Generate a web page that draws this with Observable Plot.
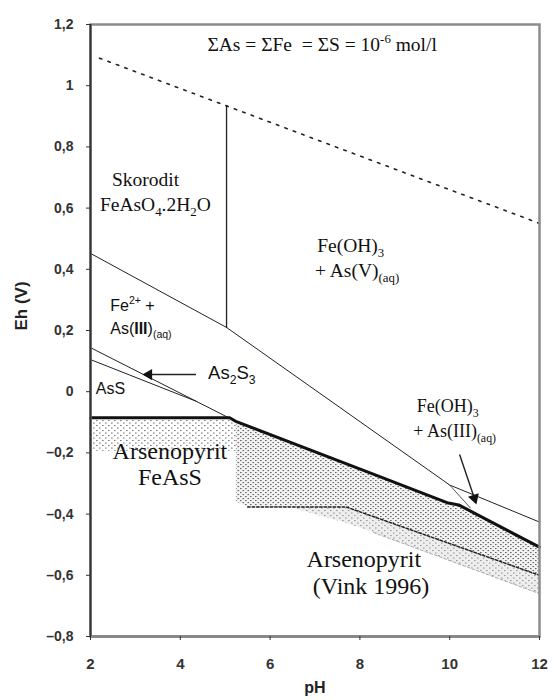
<!DOCTYPE html>
<html>
<head>
<meta charset="utf-8">
<script src="https://cdn.jsdelivr.net/npm/d3@7"></script>
<script src="https://cdn.jsdelivr.net/npm/@observablehq/plot@0.6"></script>
<style>
  body { margin: 0; background: #fff; }
  #chart { width: 554px; height: 700px; }
</style>
</head>
<body>
<div id="chart"></div>
<script>
// Eh–pH stability diagram for the As–Fe–S–H2O system

const phTicks = [2, 4, 6, 8, 10, 12];
const ehTicks = [-0.8, -0.6, -0.4, -0.2, 0, 0.2, 0.4, 0.6, 0.8, 1, 1.2];

// upper stability limit of water (O2 / H2O)
const o2Ph = [2.2, 12];
const o2Eh = [1.09, 0.55];

// skorodite | Fe(OH)3 + As(V) boundary
const skorPh = [5.03, 5.03];
const skorEh = [0.21, 0.935];

// Fe2+ / Fe(OH)3 boundary
const feOxPh = [2, 5.03, 10.0, 12];
const feOxEh = [0.452, 0.21, -0.305, -0.426];

// Fe(OH)3 + As(III) field, lower branch
const feAs3Ph = [10.0, 10.46];
const feAs3Eh = [-0.305, -0.38];

// As2S3 sliver between AsS and Fe2+ + As(III)
const as2s3TopPh = [2, 5.25];
const as2s3TopEh = [0.144, -0.098];
const as2s3BotPh = [2, 4.35];
const as2s3BotEh = [0.105, -0.031];

// upper arsenopyrite boundary
const apyPh = [2, 5.1, 5.25, 8.24, 9.97, 10.2, 12];
const apyEh = [-0.085, -0.085, -0.098, -0.266, -0.364, -0.37, -0.508];

// arsenopyrite FeAsS field (low pH)
const apyLowPh = [2, 5.1, 5.25];
const apyLowTop = [-0.085, -0.085, -0.098];
const apyLowBot = [-0.195, -0.195, -0.195];

// arsenopyrite field after Vink (1996), dense part
const vinkPh = [5.25, 5.5, 7.7, 8.24, 9.97, 10.2, 12];
const vinkTop = [-0.098, -0.112, -0.236, -0.266, -0.364, -0.37, -0.508];
const vinkBot = [-0.36, -0.377, -0.377, -0.405, -0.494, -0.506, -0.60];

// arsenopyrite field after Vink (1996), outer part
const vinkOutPh = [6.6, 7.7, 8.3, 12];
const vinkOutTop = [-0.377, -0.377, -0.408, -0.60];
const vinkOutBot = [-0.385, -0.43, -0.46, -0.66];

// Vink boundary lines
const vinkLinePh = [5.5, 7.7, 12];
const vinkLineEh = [-0.377, -0.377, -0.60];
const vinkEdgePh = [8.3, 12];
const vinkEdgeEh = [-0.46, -0.66];

// pointer arrows: tail, head
const arrowTailPh = [4.35, 10.22];
const arrowTailEh = [0.056, -0.205];
const arrowHeadPh = [3.3, 10.55];
const arrowHeadEh = [0.056, -0.348];
const arrowAngle = [-90, 162];

// field labels ( _{} subscript, ^{} superscript, *{} bold )
const labelText = [
  "ΣAs = ΣFe  = ΣS = 10^{-6} mol/l",
  "Skorodit",
  "FeAsO_{4}.2H_{2}O",
  "Fe(OH)_{3}",
  "+ As(V)_{(aq)}",
  "Fe^{2+} +",
  "As(*{III})_{(aq)}",
  "AsS",
  "As_{2}S_{3}",
  "Arsenopyrit",
  "FeAsS",
  "Arsenopyrit",
  "(Vink 1996)",
  "Fe(OH)_{3}",
  "+ As(III)_{(aq)}"
];
const labelPh = [7.17, 2.49, 2.22, 7.06, 7.01, 2.45, 2.45, 2.13, 4.63, 3.78, 3.78, 8.1, 8.26, 9.28, 9.2];
const labelEh = [1.111, 0.672, 0.59, 0.456, 0.374, 0.262, 0.187, -0.01, 0.039, -0.22, -0.308, -0.574, -0.662, -0.068, -0.15];
const labelKind = ["note", "serif", "serif", "serif", "serif", "sans", "sans", "sans", "sans2",
                   "big", "big", "big", "big", "small", "small"];
const labelAnchor = ["middle", "start", "start", "start", "start", "start", "start", "start", "start",
                     "middle", "middle", "middle", "middle", "start", "start"];

const SERIF = "'Liberation Serif', 'DejaVu Serif', serif";
const SANS = "'Liberation Sans', Arial, sans-serif";
const kindStyle = {
  note: {family: SERIF, size: 19.5},
  serif: {family: SERIF, size: 19.5},
  small: {family: SERIF, size: 18},
  big: {family: SERIF, size: 24},
  sans: {family: SANS, size: 16},
  sans2: {family: SANS, size: 18.5}
};

const pts = (xs, ys) => xs.map((x, i) => ({x, y: ys[i]}));
const band = (xs, y1, y2) => xs.map((x, i) => ({x, y1: y1[i], y2: y2[i]}));

function stippleDefs() {
  const defs = d3.create("svg:defs");
  const add = (id, w, h, color, dots) => {
    const p = defs.append("pattern").attr("id", id).attr("patternUnits", "userSpaceOnUse")
      .attr("width", w).attr("height", h);
    for (const [x, y] of dots) {
      p.append("rect").attr("x", x).attr("y", y).attr("width", 1.6).attr("height", 1.1).attr("fill", color);
    }
  };
  add("stippleDense", 5, 4, "#6a6a6a", [[0, 0], [2.5, 2]]);
  add("stippleLight", 6, 5, "#808080", [[0, 0], [3, 2.5]]);
  add("stippleFaint", 6, 5, "#9a9a9a", [[0, 0], [3, 2.5]]);
  return defs.node();
}

function appendRich(text, str, size) {
  const re = /([_^*])\{([^}]*)\}/g;
  const parts = [];
  let last = 0, m;
  while ((m = re.exec(str))) {
    if (m.index > last) parts.push({t: str.slice(last, m.index), k: ""});
    parts.push({t: m[2], k: m[1]});
    last = re.lastIndex;
  }
  if (last < str.length) parts.push({t: str.slice(last), k: ""});
  let cur = 0;
  for (const p of parts) {
    const target = p.k === "_" ? 0.27 * size : p.k === "^" ? -0.42 * size : 0;
    const ts = text.append("tspan").text(p.t);
    if (target !== cur) ts.attr("dy", target - cur);
    cur = target;
    if (p.k === "_" || p.k === "^") ts.attr("font-size", size * 0.66);
    if (p.k === "*") ts.attr("font-weight", "bold");
  }
}

function fieldLabels(index, scales) {
  const g = d3.create("svg:g");
  labelText.forEach((str, i) => {
    const st = kindStyle[labelKind[i]];
    const t = g.append("text")
      .attr("x", scales.x(labelPh[i]))
      .attr("y", scales.y(labelEh[i]))
      .attr("font-family", st.family)
      .attr("font-size", st.size)
      .attr("text-anchor", labelAnchor[i])
      .attr("fill", "#111")
      .style("white-space", "pre");
    appendRich(t, str, st.size);
  });
  return g.node();
}

const fmt = (d) => (d < 0 ? "\u2013" : "") + String(Math.abs(d)).replace(".", ",");

const chart = Plot.plot({
  width: 554,
  height: 700,
  marginLeft: 90,
  marginRight: 15,
  marginTop: 24,
  marginBottom: 64,
  x: {domain: [2, 12]},
  y: {domain: [-0.8, 1.2]},
  style: {background: "#fff", fontFamily: SANS},
  marks: [
    stippleDefs,
    // stippled arsenopyrite fields
    Plot.areaY(band(vinkOutPh, vinkOutTop, vinkOutBot), {x: "x", y1: "y1", y2: "y2", fill: "#eeeeee"}),
    Plot.areaY(band(vinkOutPh, vinkOutTop, vinkOutBot), {x: "x", y1: "y1", y2: "y2", fill: "url(#stippleFaint)"}),
    Plot.areaY(band(vinkPh, vinkTop, vinkBot), {x: "x", y1: "y1", y2: "y2", fill: "#f3f3f3"}),
    Plot.areaY(band(vinkPh, vinkTop, vinkBot), {x: "x", y1: "y1", y2: "y2", fill: "url(#stippleDense)"}),
    Plot.areaY(band(apyLowPh, apyLowTop, apyLowBot), {x: "x", y1: "y1", y2: "y2", fill: "url(#stippleLight)"}),
    // boundaries
    Plot.line(pts(vinkEdgePh, vinkEdgeEh), {x: "x", y: "y", stroke: "#aaa", strokeWidth: 1, strokeDasharray: "3,2"}),
    Plot.line(pts(vinkLinePh, vinkLineEh), {x: "x", y: "y", stroke: "#222", strokeWidth: 1.5, strokeDasharray: "2.5,2"}),
    Plot.line(pts(o2Ph, o2Eh), {x: "x", y: "y", stroke: "#222", strokeWidth: 1.6, strokeDasharray: "2.5,6.5"}),
    Plot.line(pts(skorPh, skorEh), {x: "x", y: "y", stroke: "#222", strokeWidth: 1.3}),
    Plot.line(pts(feOxPh, feOxEh), {x: "x", y: "y", stroke: "#222", strokeWidth: 1}),
    Plot.line(pts(feAs3Ph, feAs3Eh), {x: "x", y: "y", stroke: "#555", strokeWidth: 1}),
    Plot.line(pts(as2s3TopPh, as2s3TopEh), {x: "x", y: "y", stroke: "#222", strokeWidth: 1}),
    Plot.line(pts(as2s3BotPh, as2s3BotEh), {x: "x", y: "y", stroke: "#222", strokeWidth: 1}),
    Plot.line(pts(apyPh, apyEh), {x: "x", y: "y", stroke: "#111", strokeWidth: 3}),
    // pointer arrows
    Plot.link(arrowTailPh, {
      x1: (d, i) => arrowTailPh[i], y1: (d, i) => arrowTailEh[i],
      x2: (d, i) => arrowHeadPh[i], y2: (d, i) => arrowHeadEh[i],
      stroke: "#222", strokeWidth: 1.4
    }),
    Plot.dot(arrowHeadPh, {
      x: (d, i) => arrowHeadPh[i], y: (d, i) => arrowHeadEh[i],
      rotate: (d, i) => arrowAngle[i],
      symbol: "triangle", r: 4.2, fill: "#111", stroke: "none"
    }),
    // frame and axes
    Plot.frame({stroke: "#8c8c8c", strokeWidth: 2.5}),
    Plot.ruleY([-0.8], {stroke: "#888", strokeWidth: 3}),
    Plot.ruleX([2], {stroke: "#333", strokeWidth: 2}),
    Plot.axisY(ehTicks, {
      tickSize: 4, tickPadding: 13, tickFormat: fmt, label: null,
      fontSize: 14, fontWeight: "bold", fill: "#333", stroke: "#333"
    }),
    Plot.axisX(phTicks, {
      tickSize: 4, tickPadding: 18, label: null,
      fontSize: 15, fontWeight: "bold", fill: "#333", stroke: "#333"
    }),
    Plot.text(["pH"], {frameAnchor: "bottom", lineAnchor: "middle", dy: 51, fontSize: 16, fontWeight: "bold", fill: "#222"}),
    Plot.text(["Eh (V)"], {frameAnchor: "left", lineAnchor: "middle", dx: -69, rotate: -90, fontSize: 17, fontWeight: "bold", fill: "#222"}),
    fieldLabels
  ]
});

document.getElementById("chart").appendChild(chart);
</script>
</body>
</html>
